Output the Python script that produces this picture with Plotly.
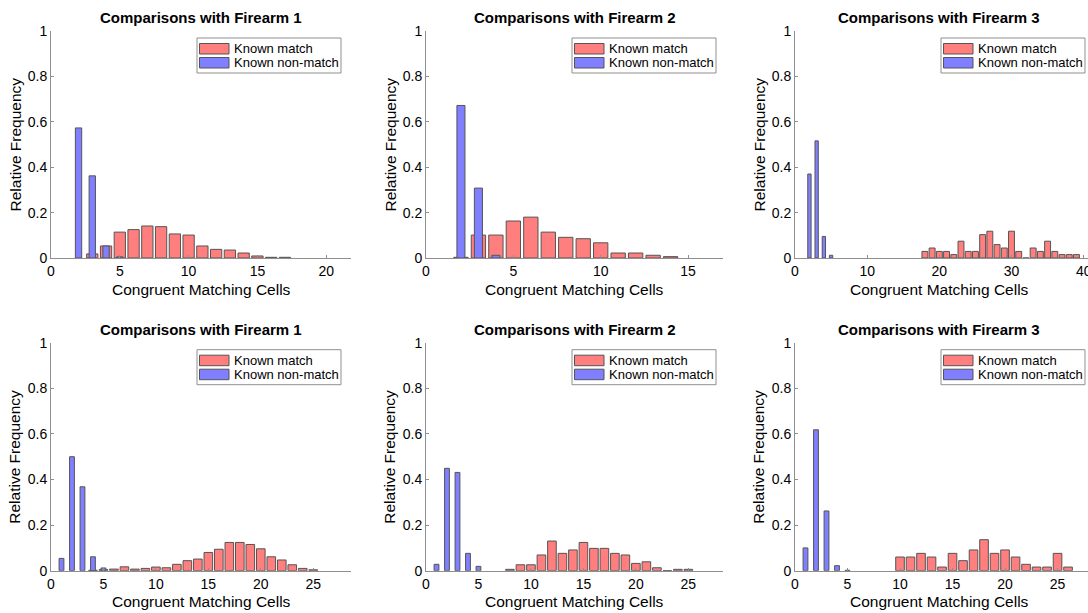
import plotly.graph_objects as go

W, H = 1088, 613

# ---------------- data ----------------
titles = ["Comparisons with Firearm 1", "Comparisons with Firearm 2", "Comparisons with Firearm 3",
          "Comparisons with Firearm 1", "Comparisons with Firearm 2", "Comparisons with Firearm 3"]
series_names = ["Known match", "Known non-match"]
x_title = "Congruent Matching Cells"
y_title = "Relative Frequency"

p1_match_x = list(range(3, 18))
p1_match_y = [0.018, 0.053, 0.114, 0.125, 0.141, 0.138, 0.106, 0.101, 0.053, 0.038, 0.035, 0.022, 0.009, 0.003, 0.003]
p1_non_x = [2, 3, 4, 5]
p1_non_y = [0.573, 0.362, 0.053, 0.005]

p2_match_x = list(range(2, 15))
p2_match_y = [0.003, 0.101, 0.101, 0.163, 0.180, 0.114, 0.091, 0.085, 0.067, 0.022, 0.022, 0.012, 0.006]
p2_non_x = [2, 3, 4]
p2_non_y = [0.672, 0.308, 0.012]

p3_match_x = list(range(18, 40))
p3_match_y = [0.029, 0.044, 0.029, 0.029, 0.015, 0.074, 0.029, 0.029, 0.103, 0.118, 0.059, 0.044,
              0.118, 0.029, 0.0, 0.044, 0.029, 0.074, 0.029, 0.015, 0.015, 0.015]
p3_non_x = [2, 3, 4, 5]
p3_non_y = [0.370, 0.516, 0.095, 0.012]

p4_match_x = list(range(4, 26))
p4_match_y = [0.002, 0.005, 0.007, 0.017, 0.007, 0.010, 0.016, 0.013, 0.028, 0.044, 0.051, 0.080,
              0.094, 0.124, 0.124, 0.115, 0.096, 0.061, 0.047, 0.026, 0.010, 0.004]
p4_non_x = [1, 2, 3, 4, 5]
p4_non_y = [0.054, 0.500, 0.368, 0.061, 0.012]

p5_match_x = list(range(8, 26))
p5_match_y = [0.006, 0.026, 0.026, 0.069, 0.130, 0.076, 0.091, 0.124, 0.098, 0.098, 0.076, 0.069,
              0.032, 0.039, 0.013, 0.0, 0.006, 0.006]
p5_non_x = [1, 2, 3, 4, 5]
p5_non_y = [0.028, 0.449, 0.431, 0.076, 0.019]

p6_match_x = list(range(10, 27))
p6_match_y = [0.060, 0.060, 0.076, 0.060, 0.016, 0.076, 0.044, 0.091, 0.136, 0.076, 0.091, 0.060,
              0.028, 0.016, 0.016, 0.076, 0.016]
p6_non_x = [1, 2, 3, 4, 5]
p6_non_y = [0.100, 0.618, 0.262, 0.022, 0.002]

x_max = [21.8, 17.0, 40.6, 28.6, 28.3, 27.9]
x_ticks = [[0, 5, 10, 15, 20], [0, 5, 10, 15], [0, 10, 20, 30, 40],
           [0, 5, 10, 15, 20, 25], [0, 5, 10, 15, 20, 25], [0, 5, 10, 15, 20, 25]]
y_ticks = [0, 0.2, 0.4, 0.6, 0.8, 1]
y_ticklabels = ["0", "0.2", "0.4", "0.6", "0.8", "1"]

match_x = [p1_match_x, p2_match_x, p3_match_x, p4_match_x, p5_match_x, p6_match_x]
match_y = [p1_match_y, p2_match_y, p3_match_y, p4_match_y, p5_match_y, p6_match_y]
non_x = [p1_non_x, p2_non_x, p3_non_x, p4_non_x, p5_non_x, p6_non_x]
non_y = [p1_non_y, p2_non_y, p3_non_y, p4_non_y, p5_non_y, p6_non_y]

# ---------------- style ----------------
RED = "#FF7F7F"
BLUE = "#7F7FFF"
EDGE = "#555555"
AXIS = "#8f8f8f"
FONT = "Liberation Sans, Arial, Helvetica, sans-serif"

cols_px = [(51, 351), (426, 723), (795, 1088)]
rows_px = [(31, 258), (342.7, 570.7)]


def px(x):
    return x / W


def py(y):
    return 1 - y / H


fig = go.Figure()
shapes = []
annotations = []

for i in range(6):
    r, c = divmod(i, 3)
    L, R = cols_px[c]
    T, B = rows_px[r]
    n = i + 1
    xa = "x" if n == 1 else f"x{n}"
    ya = "y" if n == 1 else f"y{n}"
    cx = (L + R) / 2 if c < 2 else (L + 1083) / 2

    fig.add_trace(go.Bar(x=match_x[i], y=match_y[i], width=0.82, name=series_names[0],
                         marker=dict(color=RED, line=dict(color=EDGE, width=1)),
                         xaxis=xa, yaxis=ya, showlegend=False))
    fig.add_trace(go.Bar(x=non_x[i], y=non_y[i], width=0.46, name=series_names[1],
                         marker=dict(color=BLUE, line=dict(color=EDGE, width=1)),
                         xaxis=xa, yaxis=ya, showlegend=False))

    xkey = "xaxis" if n == 1 else f"xaxis{n}"
    ykey = "yaxis" if n == 1 else f"yaxis{n}"
    fig.layout[xkey] = dict(domain=[px(L), px(R)], anchor=ya, range=[0, x_max[i]],
                            tickvals=x_ticks[i], ticks="inside", ticklen=3, tickcolor=AXIS,
                            showline=True, linecolor=AXIS, linewidth=1, showgrid=False,
                            zeroline=False, automargin=False, ticklabeloverflow="allow",
                            fixedrange=True,
                            tickfont=dict(family=FONT, size=14, color="black"))
    fig.layout[ykey] = dict(domain=[py(B), py(T)], anchor=xa, range=[0, 1],
                            tickvals=y_ticks, ticktext=y_ticklabels, ticks="inside", ticklen=3,
                            tickcolor=AXIS, showline=True, linecolor=AXIS, linewidth=1,
                            showgrid=False, zeroline=False, automargin=False,
                            ticklabeloverflow="allow", fixedrange=True,
                            tickfont=dict(family=FONT, size=14, color="black"))

    # titles
    annotations.append(dict(text=f"<b>{titles[i]}</b>", x=px(cx),
                            y=py(T - 13), xref="paper", yref="paper", showarrow=False,
                            xanchor="center", yanchor="middle",
                            font=dict(family=FONT, size=15, color="black")))
    annotations.append(dict(text=x_title, x=px(cx), y=py(B + 31),
                            xref="paper", yref="paper", showarrow=False,
                            xanchor="center", yanchor="middle",
                            font=dict(family=FONT, size=15.5, color="black")))
    annotations.append(dict(text=y_title, x=px(L - 36), y=py((T + B) / 2), textangle=-90,
                            xref="paper", yref="paper", showarrow=False,
                            xanchor="center", yanchor="middle",
                            font=dict(family=FONT, size=15.5, color="black")))

    # legend box drawn as paper shapes
    bx0, bx1 = L + 146, L + 290
    by0, by1 = T + 7, T + 42
    shapes.append(dict(type="rect", xref="paper", yref="paper", x0=px(bx0), x1=px(bx1),
                       y0=py(by1), y1=py(by0), fillcolor="white", line=dict(color=AXIS, width=1)))
    for k, (col, yy) in enumerate([(RED, T + 12.5), (BLUE, T + 26.5)]):
        shapes.append(dict(type="rect", xref="paper", yref="paper", x0=px(L + 148.5), x1=px(L + 178),
                           y0=py(yy + 10.5), y1=py(yy), fillcolor=col, line=dict(color=EDGE, width=1)))
        annotations.append(dict(text=series_names[k], x=px(L + 181), y=py(yy + 5.3),
                                xref="paper", yref="paper", showarrow=False,
                                xanchor="left", yanchor="middle",
                                font=dict(family=FONT, size=13, color="black")))

fig.update_layout(width=W, height=H, margin=dict(l=0, r=0, t=0, b=0, pad=0, autoexpand=False),
                  plot_bgcolor="white", paper_bgcolor="white", barmode="overlay",
                  shapes=shapes, annotations=annotations, showlegend=False)

fig.write_html("out.html", config={"displayModeBar": False},
               post_script="document.body.style.margin='0';document.body.style.overflow='hidden';")
